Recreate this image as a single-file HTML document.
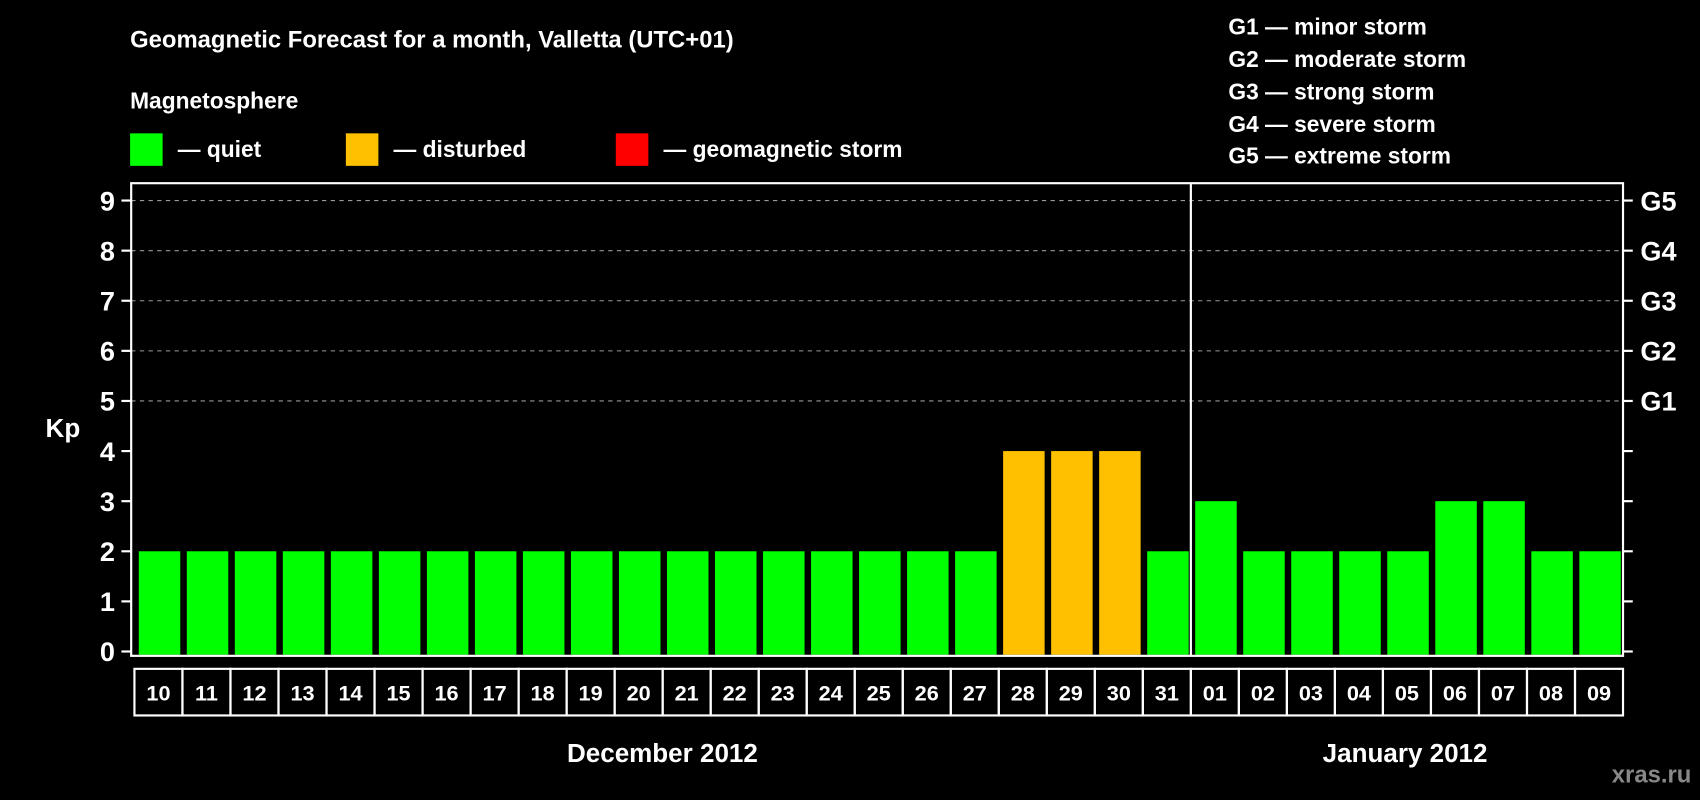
<!DOCTYPE html>
<html><head><meta charset="utf-8"><style>
html,body{margin:0;padding:0;background:#000;width:1700px;height:800px;overflow:hidden}
svg{display:block}
text{font-family:"Liberation Sans",Arial,sans-serif;font-weight:bold;fill:#fff}
</style></head><body>
<svg id="chart" width="1700" height="800" viewBox="0 0 1568 738" preserveAspectRatio="none" xmlns="http://www.w3.org/2000/svg">
<rect width="1568" height="738" fill="#000"/>
<text x="120" y="44" font-size="22">Geomagnetic Forecast for a month, Valletta (UTC+01)</text>
<text x="120" y="100" font-size="21">Magnetosphere</text>
<g><rect x="120" y="123" width="30" height="30" fill="#00ff00"/><text x="164" y="145" font-size="21">— quiet</text></g>
<g><rect x="319" y="123" width="30" height="30" fill="#ffc000"/><text x="363" y="145" font-size="21">— disturbed</text></g>
<g><rect x="568" y="123" width="30" height="30" fill="#ff0000"/><text x="612" y="145" font-size="21">— geomagnetic storm</text></g>
<g font-size="21">
<text x="1133" y="32">G1 — minor storm</text>
<text x="1133" y="62">G2 — moderate storm</text>
<text x="1133" y="92">G3 — strong storm</text>
<text x="1133" y="122">G4 — severe storm</text>
<text x="1133" y="151">G5 — extreme storm</text>
</g>
<text x="58" y="403" font-size="24" text-anchor="middle">Kp</text>
<g id="grid"></g>
<g id="bars"></g>
<g id="axes"></g>
<text x="611" y="703" font-size="24" text-anchor="middle">December 2012</text>
<text x="1296" y="703" font-size="24" text-anchor="middle">January 2012</text>
<text x="1560" y="722" font-size="22" text-anchor="end" style="fill:#888">xras.ru</text>
</svg>
<script>
const categories = ["10","11","12","13","14","15","16","17","18","19","20","21","22","23","24","25","26","27","28","29","30","31","01","02","03","04","05","06","07","08","09"];
const kpValues = [2,2,2,2,2,2,2,2,2,2,2,2,2,2,2,2,2,2,4,4,4,2,3,2,2,2,2,3,3,2,2];
const yTicks = [0,1,2,3,4,5,6,7,8,9];
const gLabels = ["G1","G2","G3","G4","G5"];
const gLevels = [5,6,7,8,9];
const monthBreakIndex = 22;

const NS = "http://www.w3.org/2000/svg";
const L = 121, R = 1497, T = 169, B = 605;
const y0 = 601, unit = (601 - 185) / 9;
const slotStart = 124, slot = (1497 - 124) / categories.length;
function yScale(v){ return y0 - v * unit; }
function xScale(i){ return slotStart + i * slot; }
function colorFor(v){ return v >= 5 ? "#ff0000" : v >= 4 ? "#ffc000" : "#00ff00"; }
function mk(tag, attrs, parent){ const e = document.createElementNS(NS, tag); for (const k in attrs) e.setAttribute(k, attrs[k]); parent.appendChild(e); return e; }

const grid = document.getElementById("grid"), bars = document.getElementById("bars"), axes = document.getElementById("axes");
gLevels.forEach(function(v){
  const ln = mk("line", {x1:L, x2:R, y1:yScale(v), y2:yScale(v), stroke:"#999", "stroke-width":1, "stroke-dasharray":"4,4"}, grid);
  
  
});
categories.forEach(function(c, i){
  const v = kpValues[i];
  const b = mk("rect", {x:xScale(i) + 4, y:yScale(v), width:slot - 6, height:B - 1 - yScale(v), fill:colorFor(v)}, bars);
  
  
  const box = mk("rect", {x:xScale(i), y:617, width:slot, height:43, fill:"none", stroke:"#fff", "stroke-width":2}, axes);
  
  
  const t = mk("text", {x:xScale(i) + slot/2, y:646, "font-size":20, "text-anchor":"middle"}, axes);
  t.textContent = c;
  
  
});
const frame = mk("rect", {x:L, y:T, width:R - L, height:B - T, fill:"none", stroke:"#fff", "stroke-width":2}, axes);


const div = mk("line", {x1:xScale(monthBreakIndex), x2:xScale(monthBreakIndex), y1:T, y2:B, stroke:"#fff", "stroke-width":2}, axes);


yTicks.forEach(function(v){
  const y = yScale(v);
  mk("line", {x1:L - 9, x2:L, y1:y, y2:y, stroke:"#fff", "stroke-width":2}, axes);
  mk("line", {x1:R, x2:R + 9, y1:y, y2:y, stroke:"#fff", "stroke-width":2}, axes);
  const t = mk("text", {x:106, y:y + 9, "font-size":25, "text-anchor":"end"}, axes);
  t.textContent = v;
  
  
});
gLabels.forEach(function(g, i){
  const t = mk("text", {x:1513, y:yScale(gLevels[i]) + 9, "font-size":25}, axes);
  t.textContent = g;
  
  
});
</script>
</body></html>
